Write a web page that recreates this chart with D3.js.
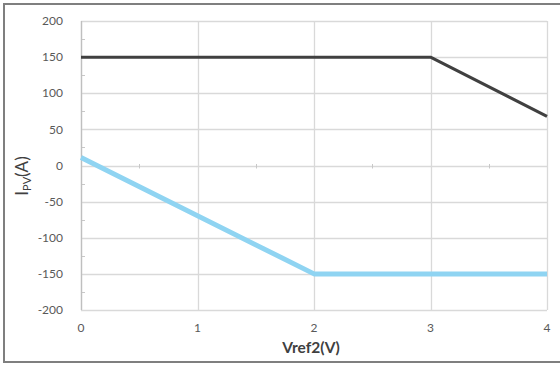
<!DOCTYPE html>
<html><head><meta charset="utf-8">
<script src="https://cdn.jsdelivr.net/npm/d3@7"></script>
<style>body{margin:0;background:#fff}svg{display:block}text{font-family:Lato,"Open Sans",sans-serif}</style>
</head><body>
<svg id="c" width="560" height="365"></svg>
<script>
const xTicks = [0, 1, 2, 3, 4];
const yTicks = [-200, -150, -100, -50, 0, 50, 100, 150, 200];
const seriesUpperX = [0, 3, 4];
const seriesUpperY = [150, 150, 68];
const seriesLowerX = [0, 2, 4];
const seriesLowerY = [11, -150, -150];
const xTitle = "Vref2(V)";

const svg = d3.select("#c");
const W = 560, H = 365;
const m = {l: 81, r: 13, t: 21, b: 55};
const x = d3.scaleLinear().domain([0, 4]).range([m.l, W - m.r]);
const y = d3.scaleLinear().domain([-200, 200]).range([H - m.b, m.t]);

svg.append("rect").attr("x", 4).attr("y", 4).attr("width", 560).attr("height", 358)
  .attr("fill", "#fff").attr("stroke", "#7f7f7f").attr("stroke-width", 2);

// gridlines
const g = svg.append("g");
g.selectAll(".hg").data(yTicks).join("line")
  .attr("x1", x(0)).attr("x2", x(4)).attr("y1", d => Math.round(y(d)) + 0.5).attr("y2", d => Math.round(y(d)) + 0.5)
  .attr("stroke", "#d9d9d9").attr("stroke-width", 1.3);
g.selectAll(".vg").data(xTicks).join("line")
  .attr("y1", y(-200)).attr("y2", y(200)).attr("x1", d => Math.round(x(d)) + 0.5).attr("x2", d => Math.round(x(d)) + 0.5)
  .attr("stroke", "#d9d9d9").attr("stroke-width", 1.3);

// minor ticks on y axis
const yMinor = d3.range(-175, 200, 50);
g.selectAll(".ym").data(yMinor).join("line")
  .attr("x1", x(0)).attr("x2", x(0) + 4).attr("y1", d => Math.round(y(d)) + 0.5).attr("y2", d => Math.round(y(d)) + 0.5)
  .attr("stroke", "#c8c8c8");
// minor ticks on x (at zero line)
const xMinor = [0.5, 1.5, 2.5, 3.5];
g.selectAll(".xm").data(xMinor).join("line")
  .attr("y1", Math.round(y(0)) - 2).attr("y2", Math.round(y(0)) + 2.5).attr("x1", d => Math.round(x(d)) + 0.5).attr("x2", d => Math.round(x(d)) + 0.5)
  .attr("stroke", "#c8c8c8");

// axis line
g.append("line").attr("x1", Math.round(x(0)) + 0.5).attr("x2", Math.round(x(0)) + 0.5)
  .attr("y1", y(-200)).attr("y2", y(200)).attr("stroke", "#bfbfbf").attr("stroke-width", 1.3);

// tick labels
svg.append("g").selectAll("text").data(yTicks).join("text")
  .attr("x", 63).attr("y", d => y(d)).attr("dy", "0.35em").attr("text-anchor", "end")
  .attr("font-size", 12).attr("fill", "#595959").text(d => d);
svg.append("g").selectAll("text").data(xTicks).join("text")
  .attr("x", d => x(d)).attr("y", 332).attr("text-anchor", "middle")
  .attr("font-size", 12).attr("fill", "#595959").text(d => d);

// lines
const line = d3.line().x(d => x(d[0])).y(d => y(d[1]));
svg.append("path").datum(seriesLowerX.map((v, i) => [v, seriesLowerY[i]]))
  .attr("d", line).attr("fill", "none").attr("stroke", "#8fd4f2").attr("stroke-width", 5).attr("stroke-linejoin", "round");
svg.append("path").datum(seriesUpperX.map((v, i) => [v, seriesUpperY[i]]))
  .attr("d", line).attr("fill", "none").attr("stroke", "#404040").attr("stroke-width", 3).attr("stroke-linejoin", "round");

// titles
svg.append("text").attr("x", 311).attr("y", 353).attr("text-anchor", "middle")
  .attr("font-size", 15.5).attr("font-weight", "bold").attr("fill", "#404040").text(xTitle);
const yt = svg.append("text").attr("transform", "translate(28,176) rotate(-90)").attr("text-anchor", "middle")
  .attr("font-size", 17).attr("fill", "#404040");
yt.append("tspan").text("I");
yt.append("tspan").attr("font-size", 11).attr("dy", 3).text("PV");
yt.append("tspan").attr("dy", -3).text("(A)");
</script>
</body></html>
